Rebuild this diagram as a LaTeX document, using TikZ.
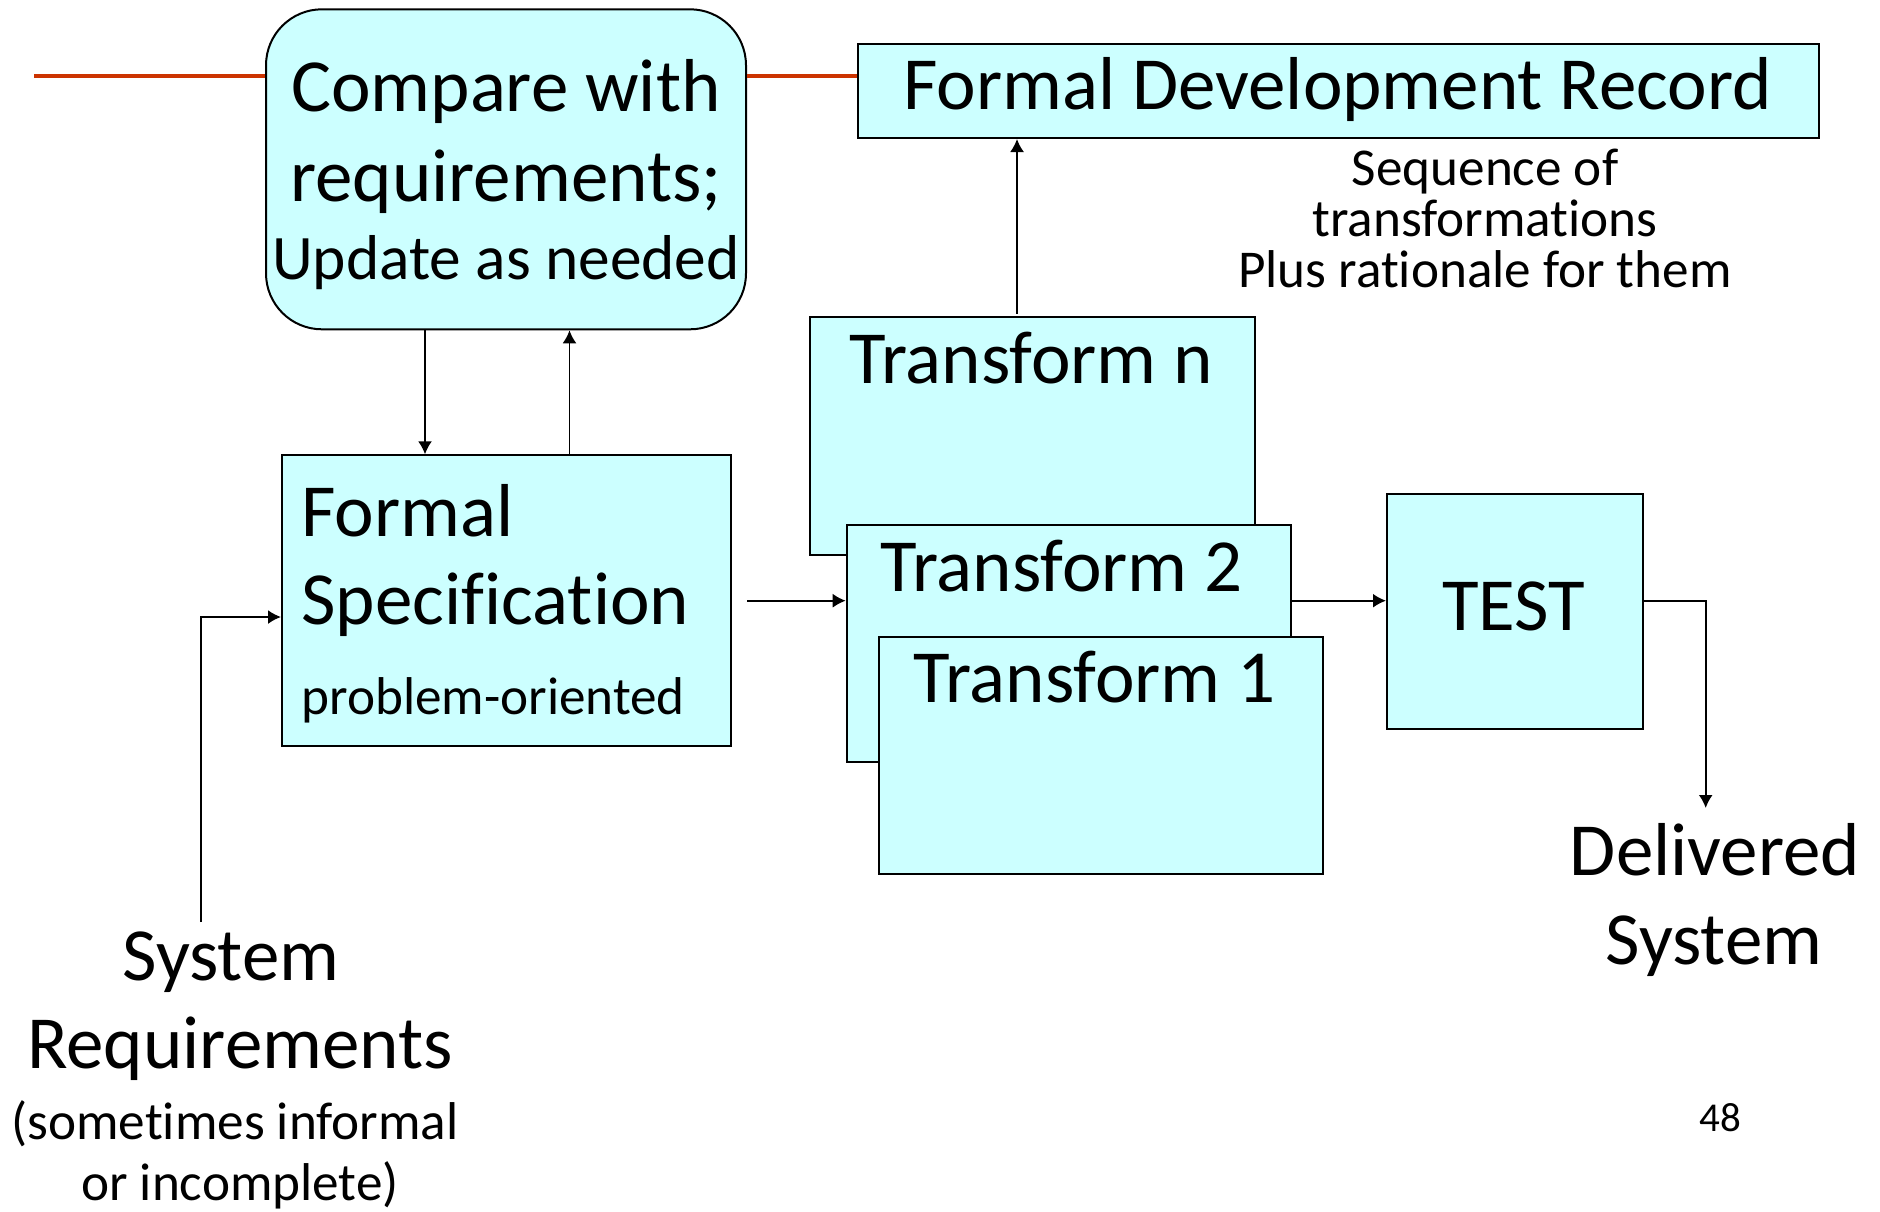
\documentclass[tikz,border=0pt]{standalone}
\usepackage{fontspec}
\setmainfont{Carlito}[Ligatures={NoCommon,NoContextual,NoRequired},RawFeature={-liga;-clig;-calt;-dlig}]
\usetikzlibrary{arrows.meta}
\definecolor{boxfill}{HTML}{CCFFFF}
\definecolor{redline}{RGB}{204,51,0}
\begin{document}
\begin{tikzpicture}[x=0.5pt,y=-0.5pt,
  box/.style={draw=black,fill=boxfill,line width=1pt,inner sep=0pt,anchor=north west},
  txt/.style={inner sep=0pt,anchor=base},
  txtw/.style={inner sep=0pt,anchor=base west},
  bigf/.style={font=\fontsize{37.5}{44}\selectfont},
  medf/.style={font=\fontsize{31.7}{38}\selectfont},
  smlf/.style={font=\fontsize{26.6}{32}\selectfont},
  tinyf/.style={font=\fontsize{20.5}{25}\selectfont},
  arr/.style={line width=0.9pt,-{Latex[length=6.5pt,width=7pt]}},
  redl/.style={draw=redline,line width=2pt}]
\useasboundingbox (0,0) rectangle (1880,1211);

% boxes
\node[box,rounded corners=28pt,minimum width=240pt,minimum height=160pt] (cmp) at (265,8.3) {};
\node[box,minimum width=480.5pt,minimum height=47pt] (fdr) at (857,43) {};
\node[box,minimum width=222.5pt,minimum height=118.8pt] (tn) at (809,316) {};
\node[box,minimum width=222.2pt,minimum height=118.3pt] (t2) at (845.7,524.3) {};
\node[box,minimum width=222.1pt,minimum height=118.5pt] (t1) at (877.5,636) {};
\node[box,minimum width=127.8pt,minimum height=117.8pt] (test) at (1386,492.7) {};
\node[box,minimum width=224.5pt,minimum height=145.5pt] (spec) at (281,454.3) {};

% orange line
\coordinate (ol) at (34,76);
\draw[redl] (ol) -- (cmp.west |- ol);
\draw[redl] (cmp.east |- ol) -- (fdr.west |- ol);

% connectors
\coordinate (xd) at (425,0);
\coordinate (xu) at (569.5,0);
\coordinate (xr) at (1017,0);
\coordinate (ya) at (0,600.7);
\coordinate (yb) at (0,617);
\coordinate (sr) at (201,922);
\coordinate (dlv) at (1705.7,808);
\draw[arr] (xd |- cmp.south) -- (xd |- spec.north);
\draw[arr] (xu |- spec.north) -- (xu |- cmp.south);
\draw[arr] ([yshift=1.2pt]xr |- tn.north) -- (xr |- fdr.south);
\draw[arr] ([xshift=7.5pt]spec.east |- ya) -- (t2.west |- ya);
\draw[arr] (t2.east |- ya) -- (test.west |- ya);
\draw[arr] (test.east |- ya) -| (dlv);
\draw[arr] (sr) |- (spec.west |- yb);

% texts
\node[txt,bigf] (c1) at (506,111.7) {Compare with};
\node[txt,bigf] (c2) at (506,201) {requirements;};
\node[txt,medf] (c3) at (506,279) {Update as needed};
\node[txt,bigf] (f1) at (1337.5,109) {Formal Development Record};
\node[txt,smlf] (s1) at (1485,185.7) {Sequence of};
\node[txt,smlf] (s2) at (1485,236) {transformations};
\node[txt,smlf] (s3) at (1485,287.5) {Plus rationale for them};
\node[txtw,bigf] (tnt) at (849,383) {Transform n};
\node[txtw,bigf] (t2t) at (880,591) {Transform 2};
\node[txtw,bigf] (t1t) at (913,702.7) {Transform 1};
\node[txt,bigf] (tt) at (1513.5,630.7) {TEST};
\node[txtw,bigf] (p1) at (301,536) {Formal};
\node[txtw,bigf] (p2) at (301,624.3) {Specification};
\node[txtw,smlf] (p3) at (301,714) {problem-oriented};
\node[txt,bigf] (r1) at (231,980) {System};
\node[txt,bigf] (r2) at (240,1068) {Requirements};
\node[txt,smlf] (r3) at (235,1139) {(sometimes informal};
\node[txt,smlf] (r4) at (240,1200) {or incomplete)};
\node[txt,bigf] (d1) at (1715,875) {Delivered};
\node[txt,bigf] (d2) at (1714,964) {System};
\node[txt,tinyf] (pg) at (1720,1131.7) {48};
\end{tikzpicture}
\end{document}
